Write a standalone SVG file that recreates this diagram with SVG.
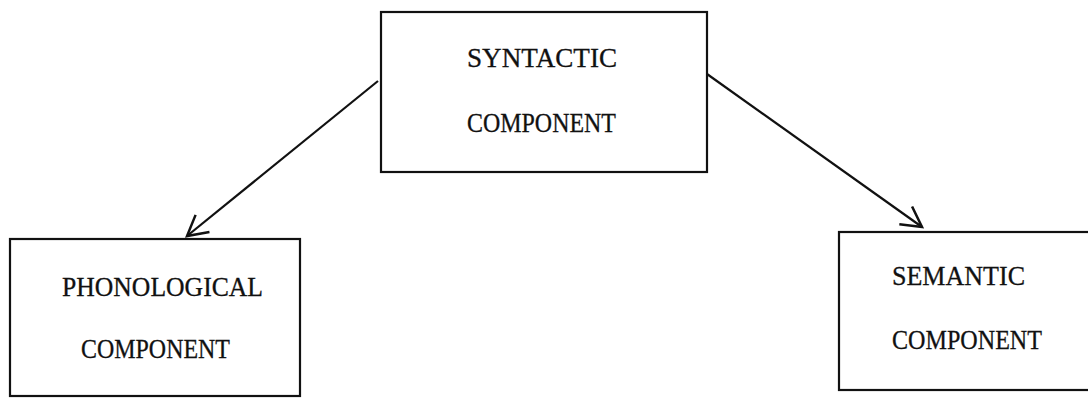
<svg xmlns="http://www.w3.org/2000/svg" width="1088" height="398" viewBox="0 0 1088 398">
<style>
.box{fill:#fff;stroke:#111;stroke-width:2.2}
.lbl{font-family:"Liberation Serif","DejaVu Serif",serif;font-size:27px;fill:#111;stroke:#111;stroke-width:0.3}
.conn{stroke:#111;stroke-width:2.2;fill:none}
</style>
<defs>
<marker id="arr" markerUnits="userSpaceOnUse" markerWidth="30" markerHeight="30" viewBox="-25 -15 30 30" refX="0" refY="0" orient="auto">
<path d="M-20,-11 L0,0 L-20,11" fill="none" stroke="#111" stroke-width="2.5"/>
</marker>
</defs>
<rect width="1088" height="398" fill="#fff"/>
<g id="connectors">
<line class="conn" x1="378" y1="81" x2="187" y2="236" marker-end="url(#arr)"/>
<line class="conn" x1="707" y1="74" x2="922" y2="227" marker-end="url(#arr)"/>
</g>
<g id="syntactic">
<rect class="box" x="381" y="12" width="326" height="160"/>
<text class="lbl" x="467" y="67" textLength="150" lengthAdjust="spacingAndGlyphs">SYNTACTIC</text>
<text class="lbl" x="467" y="132" textLength="149" lengthAdjust="spacingAndGlyphs">COMPONENT</text>
</g>
<g id="phonological">
<rect class="box" x="10" y="239" width="290" height="157"/>
<text class="lbl" x="62" y="296" textLength="201" lengthAdjust="spacingAndGlyphs">PHONOLOGICAL</text>
<text class="lbl" x="81" y="358" textLength="149" lengthAdjust="spacingAndGlyphs">COMPONENT</text>
</g>
<g id="semantic">
<rect class="box" x="839" y="232" width="260" height="158"/>
<text class="lbl" x="892" y="285" textLength="133" lengthAdjust="spacingAndGlyphs">SEMANTIC</text>
<text class="lbl" x="892" y="349" textLength="150" lengthAdjust="spacingAndGlyphs">COMPONENT</text>
</g>
</svg>
